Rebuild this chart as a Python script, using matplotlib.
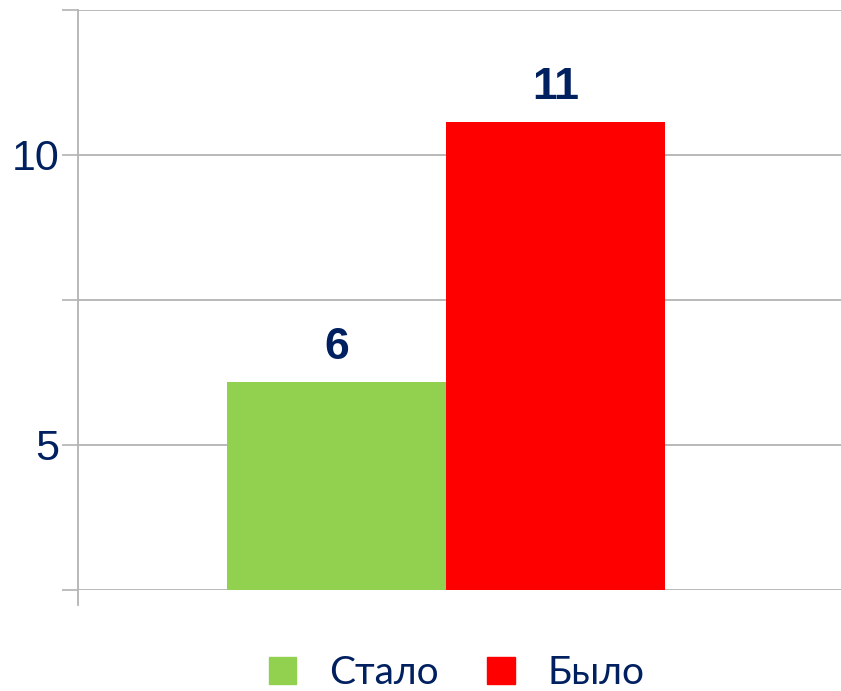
import matplotlib
matplotlib.use("Agg")
import matplotlib.pyplot as plt
from matplotlib.patches import Patch

categories = ["Стало", "Было"]
values = [6.08, 10.57]
value_labels = ["6", "11"]
colors = ["#92d050", "#ff0000"]
yticks = [2.5, 5, 7.5, 10, 12.5]
ytick_labels = ["", "5", "", "10", ""]

navy = "#002060"
grid_col = "#b3b3b3"

fig = plt.figure(figsize=(8.41, 6.91), dpi=100)
ax = fig.add_axes([78/841, 101/691, 1 - 78/841, (590 - 9.5)/691])

x = [-0.5, 0.5]
ax.set_xlim(-1.677, 1.80)
ax.set_ylim(2.5, 12.5)

ax.set_yticks(yticks)
ax.set_yticklabels(ytick_labels, fontsize=31, color=navy, family="Liberation Sans")
ax.tick_params(axis="y", length=11.5, width=1.2, color=grid_col, pad=2)
ax.tick_params(axis="x", length=0, labelbottom=False)
ax.yaxis.grid(True, color=grid_col, linewidth=1.3, zorder=0)
ax.set_axisbelow(True)

for s in ["top", "right", "bottom"]:
    ax.spines[s].set_visible(False)
ax.spines["left"].set_color(grid_col)
ax.spines["left"].set_linewidth(1.3)
ax.spines["left"].set_bounds(2.24, 12.5)

bars = ax.bar(x, values, width=1.0, color=colors, zorder=3)
for xi, v, lab in zip(x, values, value_labels):
    ax.annotate(lab, (xi, v), xytext=(0, 10), textcoords="offset points",
                ha="center", va="bottom", fontsize=32, fontweight="bold",
                color=navy, family="Liberation Sans")

handles = [Patch(color=c) for c in colors]
fig.legend(handles, categories, loc="center", bbox_to_anchor=(0.543, 1 - 673/691),
           ncol=2, frameon=False, handlelength=0.7, handleheight=0.7,
           handletextpad=0.85, columnspacing=1.25, labelcolor=navy,
           prop={"family": "Lato", "size": 28})

fig.savefig("out.png", dpi=100)
